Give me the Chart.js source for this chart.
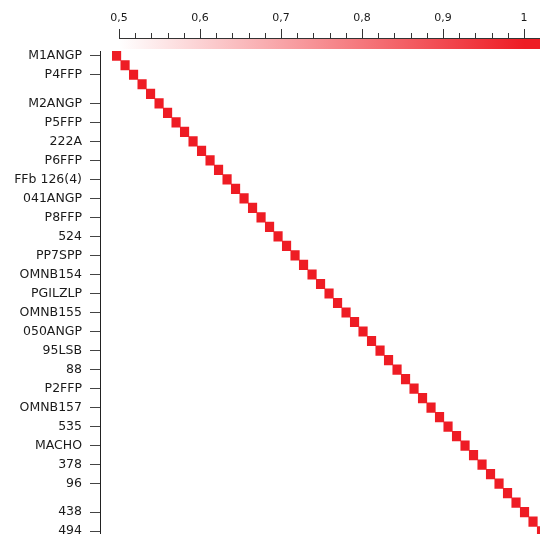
<!DOCTYPE html>
<html>
<head>
<meta charset="utf-8">
<script src="https://cdn.jsdelivr.net/npm/chart.js@4"></script>
<style>
    html, body { margin: 0; padding: 0; overflow: hidden; background: #fff; }
    #wrap { width: 540px; height: 534px; overflow: hidden; }
    #heatmap { display: block; }
</style>
</head>
<body>
<div id="wrap"><canvas id="heatmap" width="540" height="580"></canvas></div>
<script>
// row labels (only every 2nd/3rd row is labelled in the original)
const rowLabels = [
    "M1ANGP", "", "P4FFP", "", "", "M2ANGP", "", "P5FFP", "", "222A",
    "", "P6FFP", "", "FFb 126(4)", "", "041ANGP", "", "P8FFP", "", "524",
    "", "PP7SPP", "", "OMNB154", "", "PGILZLP", "", "OMNB155", "", "050ANGP",
    "", "95LSB", "", "88", "", "P2FFP", "", "OMNB157", "", "535",
    "", "MACHO", "", "378", "", "96", "", "", "438", "",
    "494", "", "", ""
];
// diagonal similarity values (self = 1)
const diagonalValues = [
    1, 1, 1, 1, 1, 1, 1, 1, 1, 1,
    1, 1, 1, 1, 1, 1, 1, 1, 1, 1,
    1, 1, 1, 1, 1, 1, 1, 1, 1, 1,
    1, 1, 1, 1, 1, 1, 1, 1, 1, 1,
    1, 1, 1, 1, 1, 1, 1, 1, 1, 1,
    1, 1, 1, 1
];
// colour scale ticks
const scaleMin = 0.5;
const scaleMax = 1;
const colorTicks = [0.5, 0.6, 0.7, 0.8, 0.9, 1];
const colorMinorTicks = [
    0.52, 0.54, 0.56, 0.58, 0.62, 0.64, 0.66, 0.68,
    0.72, 0.74, 0.76, 0.78, 0.82, 0.84, 0.86, 0.88,
    0.92, 0.94, 0.96, 0.98
];

const RED = [238, 28, 36];

function valueColor(v) {
    let t = (v - scaleMin) / (scaleMax - scaleMin);
    t = Math.max(0, Math.min(1, t));
    const r = Math.round(255 + (RED[0] - 255) * t);
    const g = Math.round(255 + (RED[1] - 255) * t);
    const b = Math.round(255 + (RED[2] - 255) * t);
    return "rgb(" + r + "," + g + "," + b + ")";
}

// draws the gradient bar, axis line and tick marks of the colour scale
const colorBarPlugin = {
    id: "colorBar",
    afterDraw(chart) {
        const ctx = chart.ctx;
        const sc = chart.scales.x2;
        const right = chart.chartArea.right;
        const x0 = sc.getPixelForValue(scaleMin);
        const x1 = sc.getPixelForValue(scaleMax);

        ctx.save();
        const grad = ctx.createLinearGradient(x0, 0, x1, 0);
        grad.addColorStop(0, valueColor(scaleMin));
        grad.addColorStop(1, valueColor(scaleMax));
        ctx.fillStyle = grad;
        ctx.fillRect(x0, 39, right - x0, 10);

        ctx.strokeStyle = "#333";
        ctx.lineWidth = 1;
        ctx.beginPath();
        ctx.moveTo(x0, 38.5);
        ctx.lineTo(right, 38.5);
        colorTicks.forEach(v => {
            const x = Math.round(sc.getPixelForValue(v)) + 0.5;
            ctx.moveTo(x, 29);
            ctx.lineTo(x, 38.5);
        });
        colorMinorTicks.forEach(v => {
            const x = Math.round(sc.getPixelForValue(v)) + 0.5;
            ctx.moveTo(x, 33);
            ctx.lineTo(x, 38.5);
        });
        ctx.stroke();
        ctx.restore();
    }
};

const ctx = document.getElementById("heatmap").getContext("2d");

const chart = new Chart(ctx, {
    type: "bar",
    data: {
        labels: rowLabels,
        datasets: [
            {
                data: diagonalValues.map((v, i) => [i, i + 1]),
                backgroundColor: diagonalValues.map(v => valueColor(v)),
                borderWidth: 0,
                barPercentage: 1,
                categoryPercentage: 1
            }
        ]
    },
    options: {
        indexAxis: "y",
        responsive: false,
        animation: false,
        layout: { padding: 0 },
        plugins: {
            legend: { display: false },
            tooltip: { enabled: false }
        },
        scales: {
            x: {
                type: "linear",
                display: false,
                min: -1.45,
                max: 50.32
            },
            x2: {
                type: "linear",
                position: "top",
                min: 0.4765,
                max: 1.0198,
                grid: { display: false, drawTicks: true, tickLength: 26 },
                border: { display: false },
                afterBuildTicks: function (scale) {
                    scale.ticks = colorTicks.map(v => ({ value: v }));
                },
                afterFit: function (scale) {
                    scale.height = 51;
                },
                ticks: {
                    padding: 0,
                    color: "#1a1a1a",
                    font: { family: "DejaVu Sans", size: 11 },
                    callback: function (value) {
                        return value === 1 ? "1" : value.toFixed(1).replace(".", ",");
                    }
                }
            },
            y: {
                type: "category",
                afterFit: function (scale) {
                    scale.width = 100;
                },
                border: { display: true, color: "#222", width: 1 },
                grid: {
                    offset: false,
                    drawOnChartArea: false,
                    drawTicks: true,
                    tickLength: 10,
                    tickColor: function (c) {
                        return rowLabels[c.index] ? "#444" : "rgba(0,0,0,0)";
                    }
                },
                ticks: {
                    autoSkip: false,
                    padding: 8,
                    color: "#1a1a1a",
                    font: { family: "DejaVu Sans", size: 12.5 },
                    callback: function (value, index) {
                        return rowLabels[index];
                    }
                }
            }
        }
    },
    plugins: [colorBarPlugin]
});
</script>
</body>
</html>
